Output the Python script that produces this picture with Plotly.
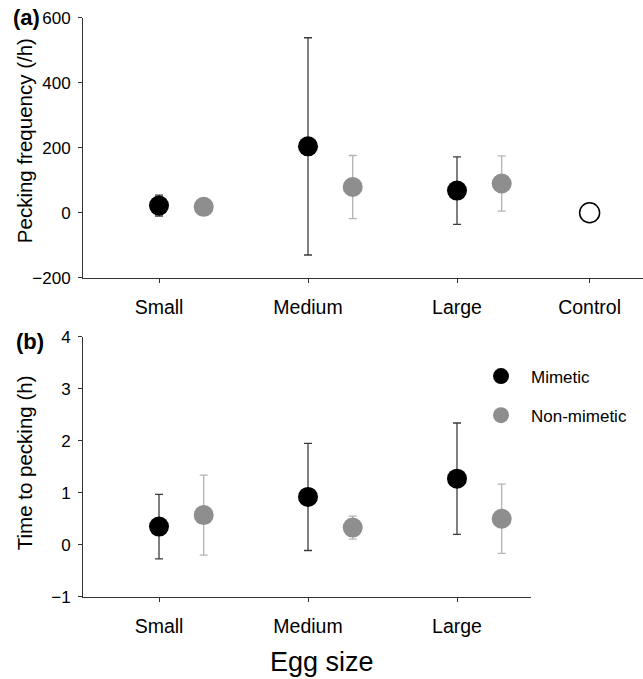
import plotly.graph_objects as go

# ---------------- data ----------------
categories = ["Small", "Medium", "Large"]
cat_pos = [1, 2, 3]
control_label = "Control"
control_pos = 3.89
offset = 0.30
series_names = ["Mimetic", "Non-mimetic"]

# panel (a): pecking frequency (/h)
freq_mimetic = [22, 204, 68]
freq_mimetic_err = [32, 334, 104]
freq_nonmimetic = [18, 79, 90]
freq_nonmimetic_err = [0, 97, 85]
freq_control = [0]

# panel (b): time to pecking (h)
time_mimetic = [0.35, 0.92, 1.27]
time_mimetic_err = [0.62, 1.03, 1.07]
time_nonmimetic = [0.57, 0.33, 0.50]
time_nonmimetic_err = [0.77, 0.22, 0.665]

ticks_a = [-200, 0, 200, 400, 600]
ticks_b = [-1, 0, 1, 2, 3, 4]

# ---------------- style ----------------
FONT = "Arial, Liberation Sans, sans-serif"
BLACK = "#000000"
GREY = "#8e8e8e"
ERR_DARK = "#3c3c3c"
ERR_LIGHT = "#b4b4b4"
AXIS = "#333333"
MS = 20
W, H = 643, 679
Y_OFF, Y_SPAN = 8.4, 662.0


def px_x(p):
    return p / W


def px_y(p):
    return 1 - (p - Y_OFF) / Y_SPAN


def fmt(t):
    return ("\u2212" + str(-t)) if t < 0 else str(t)


fig = go.Figure()

nm_pos = [p + offset for p in cat_pos]

# panel (a)
fig.add_trace(go.Scatter(
    x=cat_pos, y=freq_mimetic, mode="markers", name=series_names[0],
    marker=dict(color=BLACK, size=MS),
    error_y=dict(type="data", array=freq_mimetic_err, color=ERR_DARK, thickness=1.3, width=4),
    xaxis="x", yaxis="y", showlegend=False))
fig.add_trace(go.Scatter(
    x=nm_pos, y=freq_nonmimetic, mode="markers", name=series_names[1],
    marker=dict(color=GREY, size=MS),
    error_y=dict(type="data", array=freq_nonmimetic_err, color=ERR_LIGHT, thickness=1.3, width=4),
    xaxis="x", yaxis="y", showlegend=False))
fig.add_trace(go.Scatter(
    x=[control_pos], y=freq_control, mode="markers", name=control_label,
    marker=dict(color="white", size=MS, line=dict(color=BLACK, width=1.5)),
    xaxis="x", yaxis="y", showlegend=False))

# panel (b)
fig.add_trace(go.Scatter(
    x=cat_pos, y=time_mimetic, mode="markers", name=series_names[0],
    marker=dict(color=BLACK, size=MS),
    error_y=dict(type="data", array=time_mimetic_err, color=ERR_DARK, thickness=1.3, width=4),
    xaxis="x2", yaxis="y2", legendgroup="m", showlegend=True))
fig.add_trace(go.Scatter(
    x=nm_pos, y=time_nonmimetic, mode="markers", name=series_names[1],
    marker=dict(color=GREY, size=MS),
    error_y=dict(type="data", array=time_nonmimetic_err, color=ERR_LIGHT, thickness=1.3, width=4),
    xaxis="x2", yaxis="y2", legendgroup="n", showlegend=True))

# axis ranges in data units (149 px per category)
ppu = 149.0
x_left = 1 - (159 - 83) / ppu
xa_right = 1 + (643 - 159) / ppu
xb_right = 1 + (531 - 159) / ppu

common_y = dict(showline=True, linecolor=AXIS, linewidth=1, ticks="outside", ticklen=4,
                tickcolor=AXIS, showgrid=False, zeroline=False,
                tickfont=dict(family=FONT, size=17, color="black"), ticklabelstandoff=4)
common_x = dict(showline=True, linecolor=AXIS, linewidth=1, ticks="outside", ticklen=4,
                tickcolor=AXIS, showgrid=False, zeroline=False,
                tickfont=dict(family=FONT, size=19.5, color="black"), ticklabelstandoff=8)

fig.update_layout(
    width=W, height=H,
    margin=dict(l=0, r=0, t=0, b=0),
    paper_bgcolor="white", plot_bgcolor="white",
    font=dict(family=FONT, color="black"),
    xaxis=dict(domain=[px_x(83), 1.0], range=[x_left, xa_right], anchor="y",
               tickvals=cat_pos + [control_pos], ticktext=categories + [control_label], **common_x),
    yaxis=dict(domain=[px_y(278), px_y(17)], range=[-200, 600], anchor="x",
               tickvals=ticks_a, ticktext=[fmt(t) for t in ticks_a], **common_y),
    xaxis2=dict(domain=[px_x(83), px_x(531)], range=[x_left, xb_right], anchor="y2",
                tickvals=cat_pos, ticktext=categories, **common_x),
    yaxis2=dict(domain=[px_y(598), px_y(337)], range=[-1, 4], anchor="x2",
                tickvals=ticks_b, ticktext=[fmt(t) for t in ticks_b], **common_y),
    legend=dict(x=px_x(471), y=px_y(359), xanchor="left", yanchor="top",
                font=dict(family=FONT, size=17, color="black"),
                traceorder="grouped", tracegroupgap=14, bgcolor="rgba(0,0,0,0)",
                itemsizing="trace", itemwidth=50),
    showlegend=True,
)

annotations = [
    dict(text="<b>(a)</b>", x=px_x(11), y=px_y(17), xref="paper", yref="paper",
         xanchor="left", yanchor="middle", showarrow=False, font=dict(family=FONT, size=22)),
    dict(text="<b>(b)</b>", x=px_x(14), y=px_y(342), xref="paper", yref="paper",
         xanchor="left", yanchor="middle", showarrow=False, font=dict(family=FONT, size=22)),
    dict(text="Pecking frequency (/h)", x=px_x(24), y=px_y(141), xref="paper", yref="paper",
         xanchor="center", yanchor="middle", textangle=-90, showarrow=False,
         font=dict(family=FONT, size=20.5)),
    dict(text="Time to pecking (h)", x=px_x(24), y=px_y(464), xref="paper", yref="paper",
         xanchor="center", yanchor="middle", textangle=-90, showarrow=False,
         font=dict(family=FONT, size=20.5)),
    dict(text="Egg size", x=px_x(322), y=px_y(663), xref="paper", yref="paper",
         xanchor="center", yanchor="middle", showarrow=False,
         font=dict(family=FONT, size=27)),
]
fig.update_layout(annotations=annotations)

fig.write_html("out.html")
